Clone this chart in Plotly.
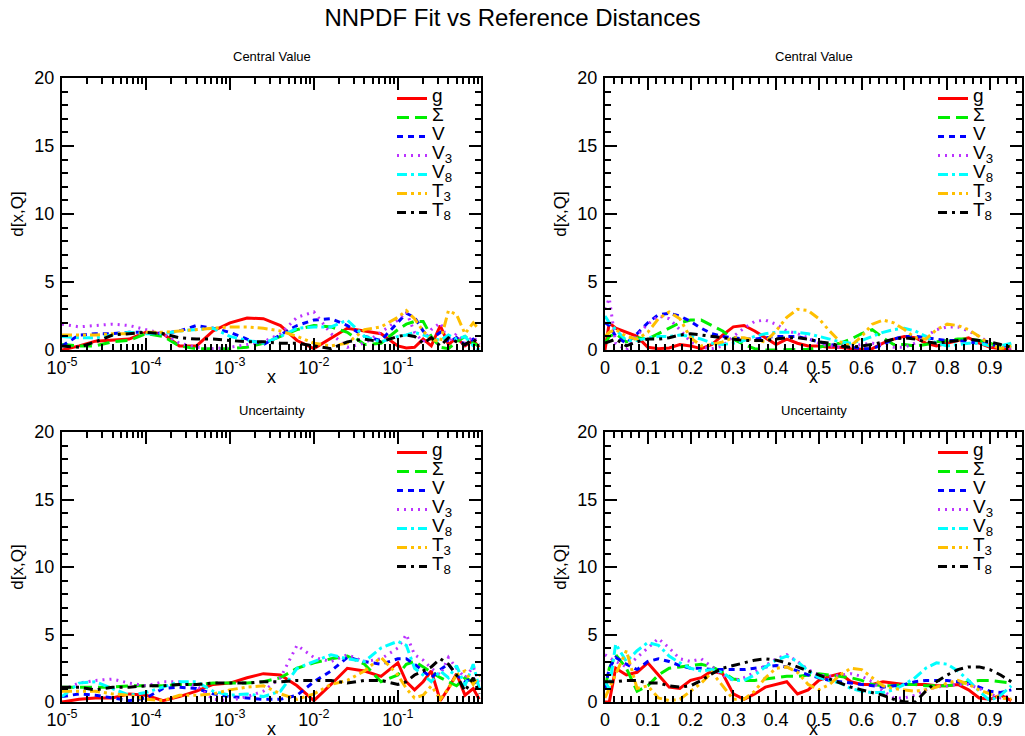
import plotly.graph_objects as go

# ---------------- data ----------------
names = ["g", "Σ", "V", "V<sub>3</sub>", "V<sub>8</sub>", "T<sub>3</sub>", "T<sub>8</sub>"]
colors = ["#ff0000", "#00ee00", "#0000ff", "#bb33ff", "#00ffff", "#ffbf00", "#000000"]
dashes = ["solid", "12px,6px", "6px,5px", "2px,5px", "10px,4px,3px,4px", "10px,4px,3px,4px,3px,4px", "9px,5px,3px,5px"]

x_log = [1e-5, 1.6e-5, 2.5e-5, 4e-5, 6.3e-5, 1e-4, 1.6e-4, 2.5e-4, 4e-4, 6.3e-4,
         1e-3, 1.6e-3, 2.5e-3, 4e-3, 6.3e-3, 1e-2, 0.016, 0.025, 0.04, 0.063,
         0.1, 0.126, 0.158, 0.2, 0.25, 0.32, 0.4, 0.5, 0.63, 0.79, 0.93]

x_lin = [0, 0.01, 0.025, 0.05, 0.075, 0.1, 0.125, 0.15, 0.175, 0.2, 0.225, 0.25,
         0.275, 0.3, 0.325, 0.35, 0.375, 0.4, 0.425, 0.45, 0.475, 0.5, 0.525,
         0.55, 0.575, 0.6, 0.625, 0.65, 0.675, 0.7, 0.725, 0.75, 0.775, 0.8,
         0.825, 0.85, 0.875, 0.9, 0.925, 0.95]

# Central value, log x
cv_log = [
    [0.0, 0.3, 0.65, 0.7, 0.8, 1.3, 1.2, 0.3, 0.3, 1.4, 2.0, 2.35, 2.3, 1.8, 0.7, 0.1, 0.9, 1.6, 1.4, 1.2, 0.3, 0.15, 0.2, 0.8, 0.3, 1.8, 0.4, 0.9, 0.3, 0.7, 0.2],
    [0.4, 0.3, 0.3, 0.6, 0.7, 1.2, 1.0, 0.3, 0.1, 0.1, 0.1, 0.2, 0.5, 1.0, 1.5, 1.8, 1.7, 1.3, 0.4, 0.5, 1.5, 1.9, 2.1, 2.1, 1.0, 0.2, 0.1, 0.6, 1.0, 0.5, 0.3],
    [0.3, 1.1, 1.2, 1.2, 1.3, 1.3, 1.2, 1.4, 1.8, 1.6, 1.3, 0.8, 0.4, 1.1, 1.8, 2.2, 2.3, 1.8, 1.0, 0.7, 2.0, 2.7, 2.4, 1.4, 0.8, 1.3, 0.6, 0.9, 0.4, 0.8, 0.5],
    [1.9, 1.7, 1.8, 1.9, 1.8, 1.5, 1.2, 0.5, 0.2, 0.1, 0.2, 0.4, 0.6, 1.2, 2.4, 2.8, 1.2, 0.2, 0.5, 1.3, 2.2, 2.8, 1.3, 0.6, 1.5, 2.0, 0.6, 1.2, 0.5, 1.0, 0.4],
    [1.0, 0.9, 0.9, 1.1, 1.3, 1.2, 1.2, 1.4, 1.5, 1.6, 1.0, 0.7, 0.5, 1.0, 1.6, 1.7, 1.7, 2.2, 1.0, 0.6, 1.0, 1.1, 1.3, 1.1, 0.9, 0.7, 1.1, 0.8, 1.0, 0.3, 0.0],
    [1.1, 1.1, 1.1, 1.2, 1.2, 1.3, 1.3, 1.4, 1.5, 1.6, 1.7, 1.7, 1.6, 1.4, 1.0, 0.5, 0.3, 0.5, 1.5, 1.7, 2.4, 2.9, 2.3, 1.4, 0.8, 0.6, 2.9, 2.6, 1.2, 2.0, 1.5],
    [0.3, 0.2, 0.6, 1.1, 1.2, 1.3, 1.2, 0.9, 0.8, 0.8, 0.7, 0.6, 0.6, 0.5, 0.5, 0.3, 0.1, 0.6, 0.8, 0.6, 1.0, 1.1, 1.0, 0.5, 0.9, 0.3, 0.9, 0.6, 0.4, 0.8, 0.4],
]

# Central value, linear x
cv_lin = [
    [0.0, 2.0, 1.6, 1.3, 1.0, 0.2, 0.1, 0.15, 0.4, 0.3, 0.1, 0.4, 1.1, 1.7, 1.8, 1.4, 0.9, 0.4, 0.8, 0.5, 0.3, 0.3, 0.2, 0.2, 0.1, 0.05, 0.1, 0.5, 0.8, 1.0, 0.9, 0.5, 0.3, 0.5, 0.7, 0.9, 0.5, 0.2, 0.1, 0.0],
    [0.5, 1.0, 1.2, 0.6, 0.9, 0.8, 1.2, 1.6, 2.0, 2.2, 2.2, 1.8, 1.4, 0.8, 0.4, 0.1, 0.0, 0.0, 0.0, 0.0, 0.05, 0.2, 0.4, 0.5, 0.8, 1.2, 1.5, 0.9, 0.4, 0.4, 0.3, 0.4, 0.6, 0.7, 0.8, 0.8, 0.7, 0.5, 0.2, 0.3],
    [2.0, 1.8, 1.0, 0.5, 1.2, 2.0, 2.6, 2.7, 2.5, 2.1, 1.6, 1.2, 1.0, 0.9, 0.8, 0.8, 0.9, 1.0, 1.0, 1.0, 0.8, 0.6, 0.4, 0.3, 0.2, 0.1, 0.1, 0.4, 0.8, 1.0, 1.0, 0.9, 0.8, 0.7, 0.7, 0.6, 0.5, 0.4, 0.3, 0.3],
    [3.0, 3.8, 0.5, 0.0, 1.1, 1.9, 2.5, 2.3, 1.5, 0.6, 0.2, 0.1, 0.3, 1.0, 1.6, 2.1, 2.2, 1.9, 1.4, 1.2, 0.9, 0.5, 0.3, 0.2, 0.3, 0.4, 0.5, 0.4, 0.2, 0.2, 0.5, 1.0, 1.5, 1.7, 1.7, 1.4, 1.0, 0.5, 0.2, 0.1],
    [2.5, 2.0, 1.5, 0.7, 0.7, 0.9, 1.0, 1.0, 1.1, 1.0, 0.8, 0.5, 0.4, 0.5, 0.7, 1.0, 1.2, 1.3, 1.3, 1.3, 1.2, 1.0, 0.8, 0.6, 0.5, 0.7, 1.0, 1.3, 1.5, 1.6, 1.4, 1.0, 0.5, 0.3, 0.4, 0.5, 0.5, 0.3, 0.3, 0.5],
    [1.0, 1.3, 1.5, 1.0, 0.8, 1.3, 2.3, 2.8, 2.3, 0.9, 0.3, 0.4, 0.6, 0.9, 0.9, 0.7, 0.6, 1.4, 2.4, 3.0, 2.9, 2.3, 1.4, 0.6, 0.3, 1.0, 1.9, 2.2, 2.0, 1.5, 0.9, 0.8, 1.5, 1.9, 1.8, 1.5, 1.0, 0.4, 0.1, 0.3],
    [0.5, 0.6, 0.8, 0.3, 0.6, 0.8, 0.8, 0.9, 1.1, 1.2, 1.1, 1.0, 0.9, 0.8, 0.7, 0.7, 0.7, 0.8, 0.9, 0.9, 0.8, 0.6, 0.5, 0.3, 0.2, 0.3, 0.4, 0.6, 0.8, 0.9, 0.8, 0.6, 0.5, 0.6, 0.7, 0.8, 0.7, 0.6, 0.4, 0.2],
]

# Uncertainty, log x
un_log = [
    [0.0, 0.2, 0.3, 0.3, 0.6, 0.5, 0.1, 0.4, 0.8, 1.3, 1.4, 1.8, 2.1, 2.0, 1.2, 0.1, 1.3, 2.5, 2.3, 1.9, 2.9, 1.5, 0.9, 1.5, 2.3, 0.1, 1.0, 2.1, 0.5, 1.0, 0.2],
    [1.1, 1.1, 1.1, 1.1, 1.2, 1.2, 1.2, 1.3, 1.3, 1.4, 1.4, 1.4, 1.5, 1.8, 2.5, 2.9, 3.2, 3.4, 2.8, 1.5, 2.0, 2.8, 3.0, 2.6, 2.2, 1.8, 1.5, 1.2, 1.8, 1.5, 1.2],
    [0.4, 0.6, 0.5, 0.3, 0.1, 0.3, 1.0, 1.1, 1.0, 0.6, 0.4, 0.3, 0.2, 0.2, 0.5, 1.5, 2.3, 3.3, 3.0, 2.8, 3.2, 3.2, 2.8, 2.3, 1.8, 2.4, 2.8, 2.0, 1.5, 1.8, 1.0],
    [0.9, 1.4, 1.6, 1.7, 1.4, 1.2, 1.5, 1.5, 1.2, 0.2, 0.1, 0.4, 0.8, 1.8, 4.2, 3.3, 3.0, 3.5, 3.0, 3.2, 4.0, 5.0, 3.5, 3.1, 2.5, 2.0, 3.3, 2.5, 1.8, 2.6, 1.5],
    [0.4, 1.4, 1.5, 1.0, 0.5, 0.7, 1.1, 1.5, 1.5, 0.8, 0.5, 0.6, 0.4, 0.8, 2.5, 3.0, 3.5, 3.2, 3.0, 4.0, 4.5, 4.2, 2.5, 2.0, 1.5, 2.3, 1.8, 2.7, 1.2, 2.8, 1.0],
    [0.8, 0.8, 0.8, 0.6, 0.5, 0.2, 0.1, 0.5, 0.5, 0.6, 0.9, 1.1, 1.2, 0.6, 0.2, 0.6, 1.3, 1.6, 2.3, 3.3, 2.0, 1.0, 0.3, 0.5, 1.2, 0.2, 1.0, 2.0, 2.3, 1.3, 2.0],
    [1.1, 1.1, 0.9, 1.1, 1.1, 1.2, 1.2, 1.3, 1.3, 1.4, 1.4, 1.4, 1.5, 1.5, 1.6, 1.6, 1.6, 1.4, 1.6, 1.6, 1.3, 1.5, 2.0, 2.3, 2.6, 3.2, 2.8, 2.0, 0.8, 1.8, 0.6],
]

# Uncertainty, linear x
un_lin = [
    [0.0, 0.0, 2.5, 2.0, 2.2, 2.9, 2.0, 1.1, 1.0, 1.6, 1.8, 2.3, 2.1, 0.6, 0.2, 0.6, 1.1, 1.3, 1.5, 0.6, 0.9, 1.6, 1.9, 2.1, 1.5, 1.3, 1.3, 1.5, 1.4, 1.3, 1.3, 1.3, 1.2, 1.2, 1.3, 0.9, 0.3, 0.2, 0.5, 0.1],
    [1.0, 2.5, 3.5, 2.5, 0.8, 1.2, 2.0, 2.5, 2.6, 2.7, 2.8, 2.6, 2.2, 1.7, 1.6, 1.6, 1.7, 1.8, 1.9, 1.9, 2.0, 2.1, 2.0, 1.9, 1.8, 1.6, 1.3, 1.2, 1.2, 1.3, 1.3, 1.2, 1.2, 1.2, 1.3, 1.5, 1.6, 1.6, 1.5, 1.4],
    [1.0, 2.5, 3.3, 2.8, 2.4, 3.0, 3.2, 3.0, 2.7, 2.5, 2.5, 2.4, 2.4, 2.4, 2.4, 2.5, 2.6, 2.7, 2.6, 2.3, 2.0, 1.8, 1.6, 1.5, 1.4, 1.3, 1.2, 1.1, 1.2, 1.3, 1.5, 1.6, 1.6, 1.6, 1.5, 1.4, 1.1, 0.8, 0.7, 0.9],
    [3.5, 3.3, 3.0, 2.6, 3.3, 4.0, 4.7, 4.0, 3.2, 3.0, 3.2, 2.6, 2.0, 1.6, 1.8, 2.2, 2.7, 3.2, 3.5, 3.0, 2.4, 2.0, 1.9, 2.0, 2.1, 1.9, 1.5, 0.8, 0.3, 0.3, 0.5, 0.9, 1.1, 1.2, 1.3, 1.3, 1.0, 0.6, 0.3, 0.5],
    [1.5, 1.0, 4.3, 3.0, 3.8, 4.4, 4.2, 3.4, 2.9, 2.5, 2.3, 2.4, 2.2, 1.6, 1.6, 2.0, 2.6, 3.1, 3.4, 3.0, 2.3, 1.8, 1.6, 1.4, 1.0, 0.8, 0.7, 0.7, 0.9, 1.3, 1.8, 2.5, 2.9, 2.8, 2.3, 1.6, 0.8, 0.1, 0.5, 1.2],
    [0.3, 1.0, 2.0, 3.8, 1.0, 1.2, 0.3, 0.1, 0.2, 0.8, 1.4, 2.2, 1.2, 0.2, 0.2, 0.8, 1.8, 2.5, 2.6, 2.2, 1.3, 0.9, 1.3, 2.0, 2.5, 2.4, 1.8, 1.2, 1.0, 0.9, 0.8, 0.9, 1.1, 1.4, 1.6, 1.3, 0.9, 0.6, 0.3, 0.2],
    [1.5, 1.5, 1.5, 1.6, 1.6, 1.4, 1.4, 1.2, 1.1, 1.2, 1.6, 2.1, 2.5, 2.7, 2.9, 3.1, 3.2, 3.1, 2.9, 2.6, 2.3, 2.0, 1.7, 1.4, 1.1, 0.9, 0.7, 0.5, 0.2, 0.0, 0.0, 0.8, 1.5, 2.0, 2.4, 2.6, 2.6, 2.4, 2.0, 1.5],
]

y_ticks = [0, 5, 10, 15, 20]
log_tick_vals = [1e-5, 1e-4, 1e-3, 1e-2, 1e-1]
log_tick_text = ["10<sup>-5</sup>", "10<sup>-4</sup>", "10<sup>-3</sup>", "10<sup>-2</sup>", "10<sup>-1</sup>"]
lin_tick_vals = [0, 0.1, 0.2, 0.3, 0.4, 0.5, 0.6, 0.7, 0.8, 0.9]
lin_tick_text = ["0", "0.1", "0.2", "0.3", "0.4", "0.5", "0.6", "0.7", "0.8", "0.9"]

# ---------------- layout geometry ----------------
W, H = 1025, 736
def fx(px): return px / W
def fy(py): return (H - py) / H

panels = [
    # (xaxis id, yaxis id, data, x, is_log, xdom, ydom, title, legend)
    ("x", "y", cv_log, x_log, True, (62, 481), (78, 350), "Central Value", "legend"),
    ("x2", "y2", cv_lin, x_lin, False, (605, 1022), (78, 350), "Central Value", "legend2"),
    ("x3", "y3", un_log, x_log, True, (62, 481), (432, 702), "Uncertainty", "legend3"),
    ("x4", "y4", un_lin, x_lin, False, (605, 1022), (432, 702), "Uncertainty", "legend4"),
]

fig = go.Figure()
FONT = "Liberation Sans, Arial, sans-serif"

annotations = []
layout = dict(
    width=W, height=H,
    margin=dict(l=0, r=0, t=0, b=0, autoexpand=False),
    paper_bgcolor="white", plot_bgcolor="white",
    font=dict(family=FONT, color="black", size=18),
    title=dict(text="NNPDF Fit vs Reference Distances", x=0.5, xanchor="center",
               y=fy(18), yanchor="middle", font=dict(size=24, family=FONT)),
    showlegend=True,
)

for i, (xa, ya, data, xs, is_log, xdom, ydom, title, leg) in enumerate(panels):
    for j in range(7):
        fig.add_trace(go.Scatter(
            x=xs, y=data[j], mode="lines",
            name='<span style="font-size:19px">' + names[j] + '</span>',
            line=dict(color=colors[j], width=3, dash=dashes[j]),
            xaxis=xa, yaxis=ya, legend=leg, showlegend=True,
        ))
    xkey = "xaxis" if xa == "x" else "xaxis" + xa[1:]
    ykey = "yaxis" if ya == "y" else "yaxis" + ya[1:]
    common = dict(showline=True, linecolor="black", linewidth=2, mirror="allticks",
                  ticks="inside", ticklen=12, tickwidth=1.5, tickcolor="black",
                  showgrid=False, zeroline=False, automargin=False,
                  tickfont=dict(size=18, family=FONT))
    if is_log:
        xaxis = dict(common, type="log", range=[-5, -0.01], tickvals=log_tick_vals,
                     ticktext=log_tick_text,
                     minor=dict(ticks="inside", ticklen=6, tickwidth=1.5, tickcolor="black", dtick="D1"))
    else:
        xaxis = dict(common, range=[0, 0.975], tickvals=lin_tick_vals, ticktext=lin_tick_text,
                     minor=dict(ticks="inside", ticklen=6, tickwidth=1.5, tickcolor="black", dtick=0.02))
    xaxis.update(domain=[fx(xdom[0]), fx(xdom[1])], anchor=ya, ticklabelstandoff=0)
    yaxis = dict(common, range=[0, 20], tickvals=y_ticks, domain=[fy(ydom[1]), fy(ydom[0])],
                 anchor=xa, ticklabelstandoff=2,
                 minor=dict(ticks="inside", ticklen=6, tickwidth=1.5, tickcolor="black", dtick=1),
                 title=dict(text="d[x,Q]", standoff=6, font=dict(size=17, family=FONT)))
    layout[xkey] = xaxis
    layout[ykey] = yaxis
    layout[leg] = dict(x=fx(xdom[1] - 89), xanchor="left", y=fy(ydom[0] + 6), yanchor="top",
                       bgcolor="rgba(0,0,0,0)", borderwidth=0, tracegroupgap=0,
                       font=dict(size=9, family=FONT), itemwidth=30)
    annotations.append(dict(text=title, x=fx((xdom[0] + xdom[1]) / 2), y=fy(ydom[0] - 22),
                            xref="paper", yref="paper", showarrow=False,
                            xanchor="center", yanchor="middle",
                            font=dict(size=13, family=FONT)))
    annotations.append(dict(text="x", x=fx((xdom[0] + xdom[1]) / 2), y=fy(ydom[1] + 27),
                            xref="paper", yref="paper", showarrow=False,
                            xanchor="center", yanchor="middle",
                            font=dict(size=18, family=FONT)))

layout["annotations"] = annotations
fig.update_layout(**layout)
fig.write_html("out.html")
